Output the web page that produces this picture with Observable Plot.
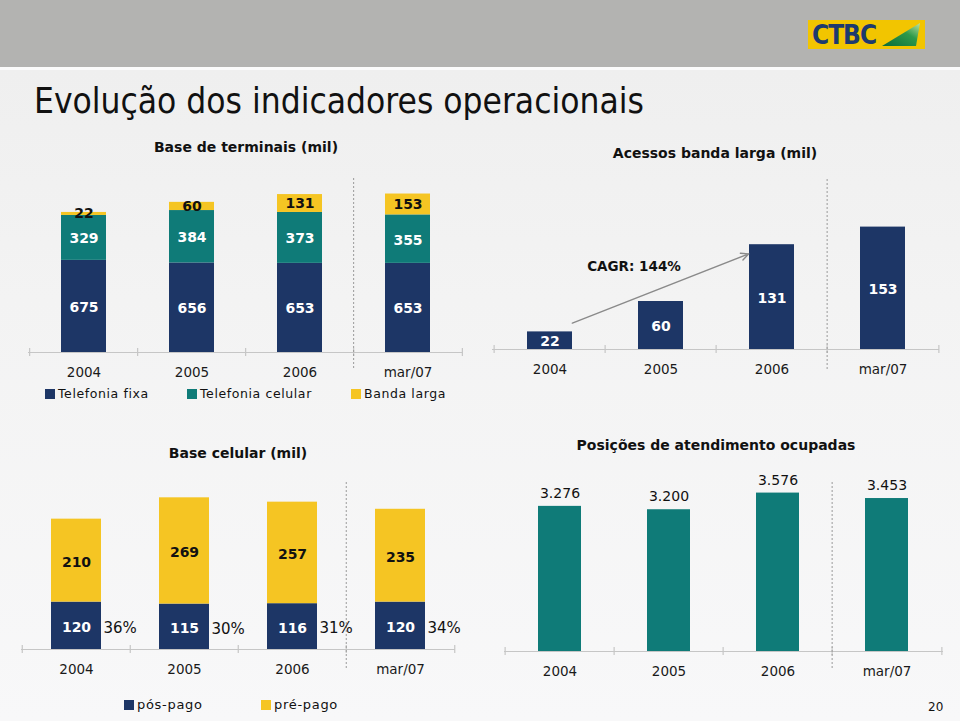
<!DOCTYPE html>
<html lang="pt"><head><meta charset="utf-8">
<script src="https://cdn.jsdelivr.net/npm/d3@7"></script>
<script src="https://cdn.jsdelivr.net/npm/@observablehq/plot@0.6"></script>
<style>
html,body{margin:0;padding:0}
body{width:960px;height:721px;overflow:hidden;position:relative;background:linear-gradient(#efefef 70px,#f3f3f3 300px,#f8f8f9 721px);font-family:"DejaVu Sans",Verdana,sans-serif;color:#111}
.abs{position:absolute}
#header{left:0;top:0;width:960px;height:67px;background:#b3b3b1}
#stripe{left:0;top:67px;width:960px;height:3px;background:#fbfbfb}
#logo{left:808px;top:20px;width:117px;height:29px;background:#f2c500}
#logo .txt{position:absolute;left:4px;top:1px;font-family:"Liberation Sans Narrow","DejaVu Sans Condensed",sans-serif;font-weight:bold;font-size:26px;line-height:28px;color:#1d3a6e;letter-spacing:-1px}
#logo svg{position:absolute;left:72px;top:2px}
#title{left:34px;top:79px;font-family:"DejaVu Sans Condensed","DejaVu Sans",sans-serif;font-size:35px;color:#111;white-space:nowrap;line-height:44px}
.ctitle{font-weight:bold;font-size:14px;white-space:nowrap;transform:translateX(-50%);line-height:18px;color:#111}
.leg{font-size:12.5px;letter-spacing:0.6px;white-space:nowrap;color:#111;line-height:16px}
.leg2{font-size:13px;letter-spacing:0.7px}
.sw{position:absolute;width:10px;height:10px}
#page{left:928px;top:700px;font-size:12px;color:#111}
</style></head><body>
<div id="header" class="abs"></div>
<div id="stripe" class="abs"></div>
<div id="logo" class="abs"><div class="txt">CTBC</div>
<svg width="42" height="26"><defs><linearGradient id="lg" x1="0" y1="1" x2="1" y2="0"><stop offset="0" stop-color="#0a6b3a"/><stop offset="0.6" stop-color="#2f9a4a"/><stop offset="1" stop-color="#bfe3a0"/></linearGradient></defs><polygon points="2,24 40,1 36,24" fill="url(#lg)"/></svg></div>
<div id="title" class="abs">Evolução dos indicadores operacionais</div>
<div id="page" class="abs">20</div>
<script>
// ---------- data ----------
const periods = ["2004", "2005", "2006", "mar/07"];

const terminaisSeries = ["Telefonia fixa", "Telefonia celular", "Banda larga"];
const telefoniaFixa = [675, 656, 653, 653];
const telefoniaCelular = [329, 384, 373, 355];
const bandaLarga = [22, 60, 131, 153];

const acessosBandaLarga = [22, 60, 131, 153];
const cagrLabel = "CAGR: 144%";

const celularSeries = ["pós-pago", "pré-pago"];
const posPago = [120, 115, 116, 120];
const prePago = [210, 269, 257, 235];
const posShare = ["36%", "30%", "31%", "34%"];

const posicoes = [3276, 3200, 3576, 3453];
const posicoesLabels = ["3.276", "3.200", "3.576", "3.453"];

const titles = {
  terminais: "Base de terminais (mil)",
  banda: "Acessos banda larga (mil)",
  celular: "Base celular (mil)",
  posicoes: "Posições de atendimento ocupadas"
};

// ---------- style ----------
const FONT = '"DejaVu Sans", Verdana, sans-serif';
const NAVY = "#1d3666", TEAL = "#0f7b78", YELLOW = "#f5c523";
const AXIS = "#c6c6c6", DOT = "#9a9a9a";

const terminais = periods.flatMap((p, i) => [
  {period: p, series: terminaisSeries[0], value: telefoniaFixa[i]},
  {period: p, series: terminaisSeries[1], value: telefoniaCelular[i]},
  {period: p, series: terminaisSeries[2], value: bandaLarga[i]}
]);
const banda = periods.map((p, i) => ({period: p, value: acessosBandaLarga[i]}));
const celular = periods.flatMap((p, i) => [
  {period: p, series: celularSeries[0], value: posPago[i], share: posShare[i]},
  {period: p, series: celularSeries[1], value: prePago[i], share: null}
]);
const posic = periods.map((p, i) => ({period: p, value: posicoes[i], label: posicoesLabels[i]}));

function makeChart(L, marksFn, extra = {}) {
  const step = (L.W - L.mL - L.mR) / periods.length;
  const pin = 1 - L.bar / step;
  const bw = L.bar;
  const last = periods[periods.length - 1];
  const frame = [
    Plot.ruleY([0], {stroke: AXIS, strokeWidth: 1.2}),
    Plot.ruleX(periods, {x: d => d, y1: 0, y2: 0, dx: -step / 2, insetTop: -4, insetBottom: -4, stroke: AXIS, strokeWidth: 1.2}),
    Plot.ruleX([last], {x: d => d, y1: 0, y2: 0, dx: step / 2, insetTop: -4, insetBottom: -4, stroke: AXIS, strokeWidth: 1.2}),
    Plot.ruleX([last], {x: d => d, dx: -step / 2, insetBottom: -L.dotBottom, stroke: DOT, strokeDasharray: "2,2"})
  ];
  const svg = Plot.plot({
    width: L.W, height: L.H,
    marginTop: L.mT, marginBottom: L.mB, marginLeft: L.mL, marginRight: L.mR,
    x: {domain: periods, paddingInner: pin, paddingOuter: pin / 2, label: null, tickSize: 0, tickPadding: 15},
    y: {domain: [0, (L.H - L.mT - L.mB) / L.ppu], axis: null},
    style: {background: "transparent", fontFamily: FONT, fontSize: "13.5px", color: "#1a1a1a", overflow: "visible"},
    ...extra,
    marks: [...frame, ...marksFn(bw, step)]
  });
  const wrap = document.createElement("div");
  wrap.className = "abs";
  wrap.style.left = L.left + "px";
  wrap.style.top = L.top + "px";
  wrap.appendChild(svg);
  document.body.appendChild(wrap);
}

function addTitle(text, cx, top) {
  const d = document.createElement("div");
  d.className = "abs ctitle";
  d.style.left = cx + "px";
  d.style.top = top + "px";
  d.textContent = text;
  document.body.appendChild(d);
}

function addLegend(names, colors, lefts, top, cls = "") {
  names.forEach((n, i) => {
    const s = document.createElement("div");
    s.className = "sw";
    s.style.left = lefts[i] + "px";
    s.style.top = (top + 3) + "px";
    s.style.background = colors[i];
    document.body.appendChild(s);
    const t = document.createElement("div");
    t.className = "abs leg " + cls;
    t.style.left = (lefts[i] + 13) + "px";
    t.style.top = top + "px";
    t.textContent = n;
    document.body.appendChild(t);
  });
}

// ---------- chart 1: Base de terminais ----------
addTitle(titles.terminais, 246, 138);
makeChart({left: 0, top: 170, W: 480, H: 215, mT: 8, mB: 33, mL: 28, mR: 17, bar: 45, ppu: 0.1365, dotBottom: 18},
  () => [
    Plot.barY(terminais, {x: "period", y: "value", fill: "series", order: terminaisSeries}),
    Plot.text(terminais, Plot.stackY({x: "period", y: "value", z: "series", order: terminaisSeries,
      text: d => d.series !== terminaisSeries[2] ? String(d.value) : null,
      fill: "white", fontWeight: "bold", fontSize: 14, dy: 1})),
    Plot.text(terminais, Plot.stackY({x: "period", y: "value", z: "series", order: terminaisSeries,
      text: d => d.series === terminaisSeries[2] ? String(d.value) : null,
      fill: "#111", fontWeight: "bold", fontSize: 14, dy: 0}))
  ],
  {color: {domain: terminaisSeries, range: [NAVY, TEAL, YELLOW]}});
addLegend(terminaisSeries, [NAVY, TEAL, YELLOW], [45, 187, 351], 386);

// ---------- chart 2: Acessos banda larga ----------
addTitle(titles.banda, 715, 144);
makeChart({left: 480, top: 170, W: 480, H: 215, mT: 9, mB: 36, mL: 12, mR: 21, bar: 45, ppu: 0.8, dotBottom: 21},
  () => [
    Plot.barY(banda, {x: "period", y: "value", fill: NAVY}),
    Plot.text(banda, Plot.stackY({x: "period", y: "value", text: d => String(d.value), fill: "white", fontWeight: "bold", fontSize: 14, dy: 1})),
    Plot.arrow([{from: periods[0], to: periods[2], a: acessosBandaLarga[0], b: acessosBandaLarga[2]}],
      {x1: "from", y1: "a", x2: "to", y2: "b", stroke: "#8a8a8a", strokeWidth: 1.4, headLength: 9, headAngle: 50, insetStart: 24, insetEnd: 25}),
    Plot.text([cagrLabel], {x: () => periods[1], y: () => (acessosBandaLarga[0] + acessosBandaLarga[2]) / 2,
      text: d => d, dx: -27, dy: -22, fontWeight: "bold", fontSize: 13.5, fill: "#111"})
  ]);

// ---------- chart 3: Base celular ----------
addTitle(titles.celular, 238, 444);
makeChart({left: 0, top: 470, W: 480, H: 215, mT: 12, mB: 36, mL: 21, mR: 25, bar: 50, ppu: 0.395, dotBottom: 21},
  (bw) => [
    Plot.barY(celular, {x: "period", y: "value", fill: "series", order: celularSeries}),
    Plot.text(celular, Plot.stackY({x: "period", y: "value", z: "series", order: celularSeries,
      text: d => d.series === celularSeries[0] ? String(d.value) : null,
      fill: "white", fontWeight: "bold", fontSize: 14, dy: 2})),
    Plot.text(celular, Plot.stackY({x: "period", y: "value", z: "series", order: celularSeries,
      text: d => d.series === celularSeries[1] ? String(d.value) : null,
      fill: "#111", fontWeight: "bold", fontSize: 14, dy: 2})),
    Plot.text(celular, Plot.stackY({x: "period", y: "value", z: "series", order: celularSeries,
      text: "share", textAnchor: "start", dx: bw / 2 + 2, dy: 2, fill: "#111", fontSize: 15}))
  ],
  {color: {domain: celularSeries, range: [NAVY, YELLOW]}});
addLegend(celularSeries, [NAVY, YELLOW], [124, 261], 697, "leg2");

// ---------- chart 4: Posições de atendimento ----------
addTitle(titles.posicoes, 716, 436);
makeChart({left: 480, top: 470, W: 480, H: 215, mT: 12, mB: 34, mL: 24, mR: 17, bar: 43.5, ppu: 0.0443, dotBottom: 19},
  () => [
    Plot.barY(posic, {x: "period", y: "value", fill: TEAL}),
    Plot.text(posic, {x: "period", y: "value", text: "label", dy: -13, fill: "#111", fontSize: 14})
  ]);
</script>
</body></html>
